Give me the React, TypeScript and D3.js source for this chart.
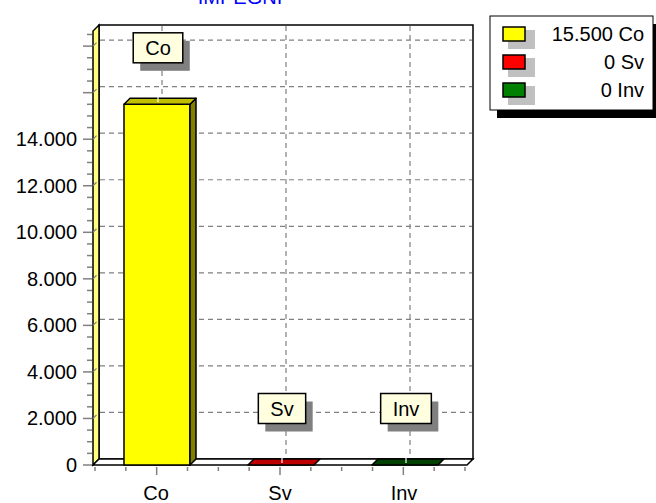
// Libraries
import { useEffect, useRef } from 'react';
import * as d3 from 'd3';

const title = 'IMPEGNI';
const categories = ['Co', 'Sv', 'Inv'];
const values = [15500, 0, 0];
const colors = ['#FFFF00', '#FF0000', '#008000'];
const labelledTicks = [0, 2000, 4000, 6000, 8000, 10000, 12000, 14000];
const majorTicks = [0, 2000, 4000, 6000, 8000, 10000, 12000, 14000, 16000, 18000];
const axisMax = 18650;

const width = 656;
const height = 503;
const font = 'Arial, "Liberation Sans", sans-serif';
const depth = 6;

// TeeChart style darkening of the 3D faces
function darken(color: string, amount: number) {
  const c = d3.rgb(color);
  return d3.rgb(Math.max(0, c.r - amount), Math.max(0, c.g - amount), Math.max(0, c.b - amount)).formatHex();
}

function fmt(v: number) {
  return v === 0 ? '0' : d3.format(',')(v).replace(/,/g, '.');
}

function textWidth(s: string) {
  const w: any = { C: 0.722, o: 0.556, S: 0.667, v: 0.5, I: 0.278, n: 0.556 };
  return s.split('').reduce((a, ch) => a + (w[ch] || 0.556) * 20, 0);
}

function drawChart(node: SVGSVGElement) {
  const svg = d3.select(node);
  svg.selectAll('*').remove();

  const x = d3.scaleBand().domain(categories).range([94, 466]);
  const y = d3.scaleLinear().domain([0, axisMax]).range([465, 31]);
  const left = 93, right = 467, bottom = y(0), top = y(axisMax);

  // title (cut off at the top)
  svg.append('text')
    .attr('x', 240).attr('y', 4)
    .attr('text-anchor', 'middle')
    .attr('font-family', font).attr('font-size', 20)
    .attr('fill', '#0000FF')
    .text(title);

  // back wall
  svg.append('rect')
    .attr('x', left + depth).attr('y', top - depth)
    .attr('width', right - left).attr('height', bottom - top)
    .attr('fill', '#FFFFFF').attr('stroke', '#000').attr('stroke-width', 1.5);

  // left wall
  svg.append('path')
    .attr('d', `M${left},${bottom}L${left + depth},${bottom - depth}L${left + depth},${top - depth}L${left},${top}Z`)
    .attr('fill', '#FFFF80').attr('stroke', '#000').attr('stroke-width', 1.5);

  // floor
  svg.append('path')
    .attr('d', `M${left},${bottom}L${right},${bottom}L${right + depth},${bottom - depth}L${left + depth},${bottom - depth}Z`)
    .attr('fill', '#FFFFFF').attr('stroke', '#000').attr('stroke-width', 1.5);

  // horizontal grid lines
  const grid = svg.append('g')
    .attr('stroke', '#808080').attr('stroke-width', 1.2).attr('stroke-dasharray', '5,4');
  majorTicks.filter(v => v > 0).forEach(v => {
    grid.append('line')
      .attr('x1', left + depth + 1).attr('x2', right + depth - 1)
      .attr('y1', y(v) - depth).attr('y2', y(v) - depth);
    grid.append('line')
      .attr('x1', left).attr('x2', left + depth)
      .attr('y1', y(v)).attr('y2', y(v) - depth)
      .attr('stroke-dasharray', null);
  });
  // vertical grid lines
  categories.forEach(c => {
    const cx = (x(c) as number) + x.bandwidth() / 2 + depth;
    grid.append('line')
      .attr('x1', cx).attr('x2', cx)
      .attr('y1', top - depth + 1).attr('y2', bottom - depth - 1);
  });

  // y ticks
  const ticks = svg.append('g').attr('stroke', '#808080').attr('stroke-width', 1.5);
  d3.range(0, axisMax, 500).forEach(v => {
    const major = v % 2000 === 0;
    ticks.append('line')
      .attr('x1', major ? 83 : 87).attr('x2', 92)
      .attr('y1', y(v)).attr('y2', y(v));
  });

  svg.append('g')
    .selectAll('text')
    .data(labelledTicks)
    .join('text')
    .attr('x', 77).attr('y', d => y(d) + 7)
    .attr('text-anchor', 'end')
    .attr('font-family', font).attr('font-size', 20)
    .text(d => fmt(d));

  // x ticks
  const step = x.bandwidth() / 4;
  d3.range(0, 13).forEach(i => {
    const tx = 95 + i * step * (370 / 372);
    const major = i % 4 === 2;
    ticks.append('line')
      .attr('x1', tx).attr('x2', tx)
      .attr('y1', bottom + 2).attr('y2', major ? bottom + 10 : bottom + 6);
  });

  svg.append('g')
    .selectAll('text')
    .data(categories)
    .join('text')
    .attr('x', d => (x(d) as number) + x.bandwidth() / 2)
    .attr('y', 500)
    .attr('text-anchor', 'middle')
    .attr('font-family', font).attr('font-size', 20)
    .text(d => d);

  // bars
  const barW = 66;
  categories.forEach((c, i) => {
    const cx = (x(c) as number) + x.bandwidth() / 2 + 1;
    const x0 = cx - barW / 2, x1 = cx + barW / 2;
    const yt = y(values[i]);
    const g = svg.append('g').attr('stroke', '#000').attr('stroke-width', 1.5).attr('stroke-linejoin', 'round');
    if (bottom - yt > 0) {
      g.append('rect')
        .attr('x', x0).attr('y', yt).attr('width', barW).attr('height', bottom - yt)
        .attr('fill', colors[i]);
      g.append('path')
        .attr('d', `M${x1},${bottom}L${x1 + depth},${bottom - depth}L${x1 + depth},${yt - depth}L${x1},${yt}Z`)
        .attr('fill', darken(colors[i], 128));
    }
    g.append('path')
      .attr('d', `M${x0},${yt}L${x1},${yt}L${x1 + depth},${yt - depth}L${x0 + depth},${yt - depth}Z`)
      .attr('fill', darken(colors[i], 64));
    // small white tick where the grid line meets the top
    svg.append('line')
      .attr('x1', cx + 1).attr('x2', cx + 1)
      .attr('y1', yt - depth - 2).attr('y2', yt - 2)
      .attr('stroke', '#FFFFFF').attr('stroke-width', 1.2);

    // mark label
    const bw = textWidth(c) + 24;
    const bh = 30;
    const by = yt - 41.5 - bh;
    const bx = cx + 1 - bw / 2;
    svg.append('rect')
      .attr('x', bx + 7).attr('y', by + 8).attr('width', bw).attr('height', bh)
      .attr('fill', '#808080');
    svg.append('rect')
      .attr('x', bx).attr('y', by).attr('width', bw).attr('height', bh)
      .attr('fill', '#FFFFE0').attr('stroke', '#000').attr('stroke-width', 1.5);
    svg.append('text')
      .attr('x', bx + bw / 2).attr('y', by + bh / 2 + 7)
      .attr('text-anchor', 'middle')
      .attr('font-family', font).attr('font-size', 20)
      .text(c);
  });

  // legend
  const lg = svg.append('g');
  lg.append('rect')
    .attr('x', 497).attr('y', 24).attr('width', 170).attr('height', 94)
    .attr('fill', '#000');
  lg.append('rect')
    .attr('x', 490).attr('y', 16).attr('width', 163).attr('height', 94)
    .attr('fill', '#FFFFFF').attr('stroke', '#000').attr('stroke-width', 1);
  categories.forEach((c, i) => {
    const ry = 27 + i * 28;
    lg.append('rect')
      .attr('x', 508).attr('y', ry + 3).attr('width', 27).attr('height', 19)
      .attr('fill', '#C0C0C0');
    lg.append('rect')
      .attr('x', 503).attr('y', ry).attr('width', 22).attr('height', 14)
      .attr('fill', colors[i]).attr('stroke', '#000').attr('stroke-width', 1.5);
    lg.append('text')
      .attr('x', 644).attr('y', ry + 14)
      .attr('text-anchor', 'end')
      .attr('font-family', font).attr('font-size', 20)
      .text(`${fmt(values[i])} ${c}`);
  });
}

export default function App() {
  const ref = useRef<SVGSVGElement>(null);

  useEffect(() => {
    if (ref.current) drawChart(ref.current);
  }, []);

  return (
    <svg ref={ref} width={width} height={height}
      style={{ position: 'absolute', left: 0, top: 0, background: '#FFFFFF' }} />
  );
}
